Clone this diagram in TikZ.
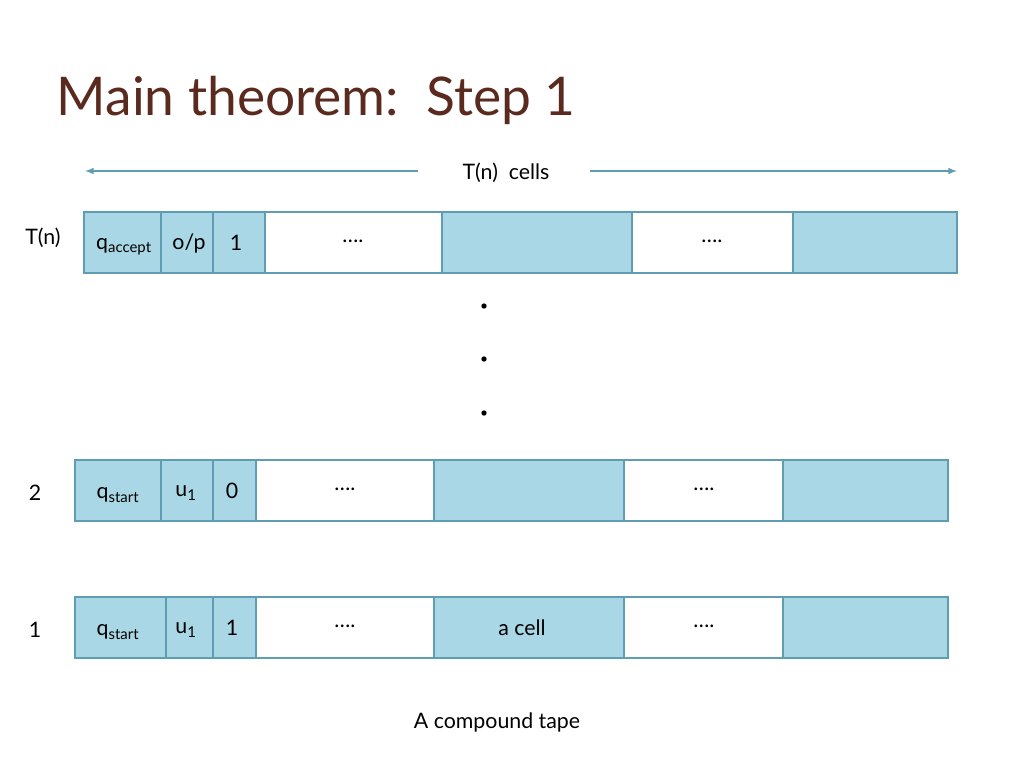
\documentclass[tikz,border=0pt]{standalone}
\usepackage{fontspec}
\setmainfont{Lato}
\begin{document}
\begin{tikzpicture}[x=0.75pt,y=-0.75pt,
  bc/.style={draw=cellborder,line width=1.2pt,fill=cellblue},
  wc/.style={draw=cellborder,line width=1.2pt,fill=white},
  lab/.style={font=\fontsize{16}{18}\selectfont},
  arr/.style={draw=arrcol,line width=1.2pt,-latex}]
\definecolor{cellblue}{HTML}{A9D7E5}
\definecolor{cellborder}{HTML}{5E9DB2}
\definecolor{arrcol}{HTML}{5E9DB2}
\definecolor{titlecol}{HTML}{5B2A1E}
\useasboundingbox (0,0) rectangle (1024,768);
\node[anchor=west,text=titlecol,font=\fontsize{40}{44}\selectfont] (title) at (52,100) {Main theorem:\ \ Step 1};
\node[lab] (tc) at (506,173) {T(n)\ \ cells};
\coordinate (la) at (85,171); \coordinate (ra) at (957,171);
\draw[arr] (418,171) -- (la);
\draw[arr] (590,171) -- (ra);
% row top
\newcommand\row[9]{%
 \draw[bc] (#2,#1) rectangle (#3,#1+61);
 \draw[bc] (#3,#1) rectangle (#4,#1+61);
 \draw[bc] (#4,#1) rectangle (#5,#1+61);
 \draw[wc] (#5,#1) rectangle (#6,#1+61);
 \draw[bc] (#6,#1) rectangle (#7,#1+61);
 \draw[wc] (#7,#1) rectangle (#8,#1+61);
 \draw[bc] (#8,#1) rectangle (#9,#1+61);}
\row{212}{84}{161}{213}{265}{442}{632}{793}{957}
\row{460}{75}{161}{213}{256}{434}{624}{783}{948}
\row{597}{75}{166}{213}{256}{434}{624}{783}{948}
% texts row top
\node[lab] (a1) at (124,247) {q\textsubscript{accept}};
\node[lab] (a2) at (189,243) {o/p};
\node[lab] (a3) at (236,243) {1};
\node[lab] (a4) at (353,241) {\dots.};
\node[lab] (a6) at (712,241) {\dots.};
\node[lab] (b1) at (118,495) {q\textsubscript{start}};
\node[lab] (b2) at (186,493) {u\textsubscript{1}};
\node[lab] (b3) at (232,491) {0};
\node[lab] (b4) at (345,489) {\dots.};
\node[lab] (b6) at (704,489) {\dots.};
\node[lab] (c1) at (118,632) {q\textsubscript{start}};
\node[lab] (c2) at (186,630) {u\textsubscript{1}};
\node[lab] (c3) at (232,628) {1};
\node[lab] (c4) at (345,626) {\dots.};
\node[lab] (c5) at (522,628) {a cell};
\node[lab] (c6) at (704,626) {\dots.};
\node[lab] (l1) at (43,238) {T(n)};
\node[lab] (l2) at (35,493) {2};
\node[lab] (l3) at (35,630) {1};
\foreach \yy in {306,359,413} \fill (484,\yy) circle (2pt);
\node[lab] (cap) at (497,722) {A compound tape};
\end{tikzpicture}
\end{document}
